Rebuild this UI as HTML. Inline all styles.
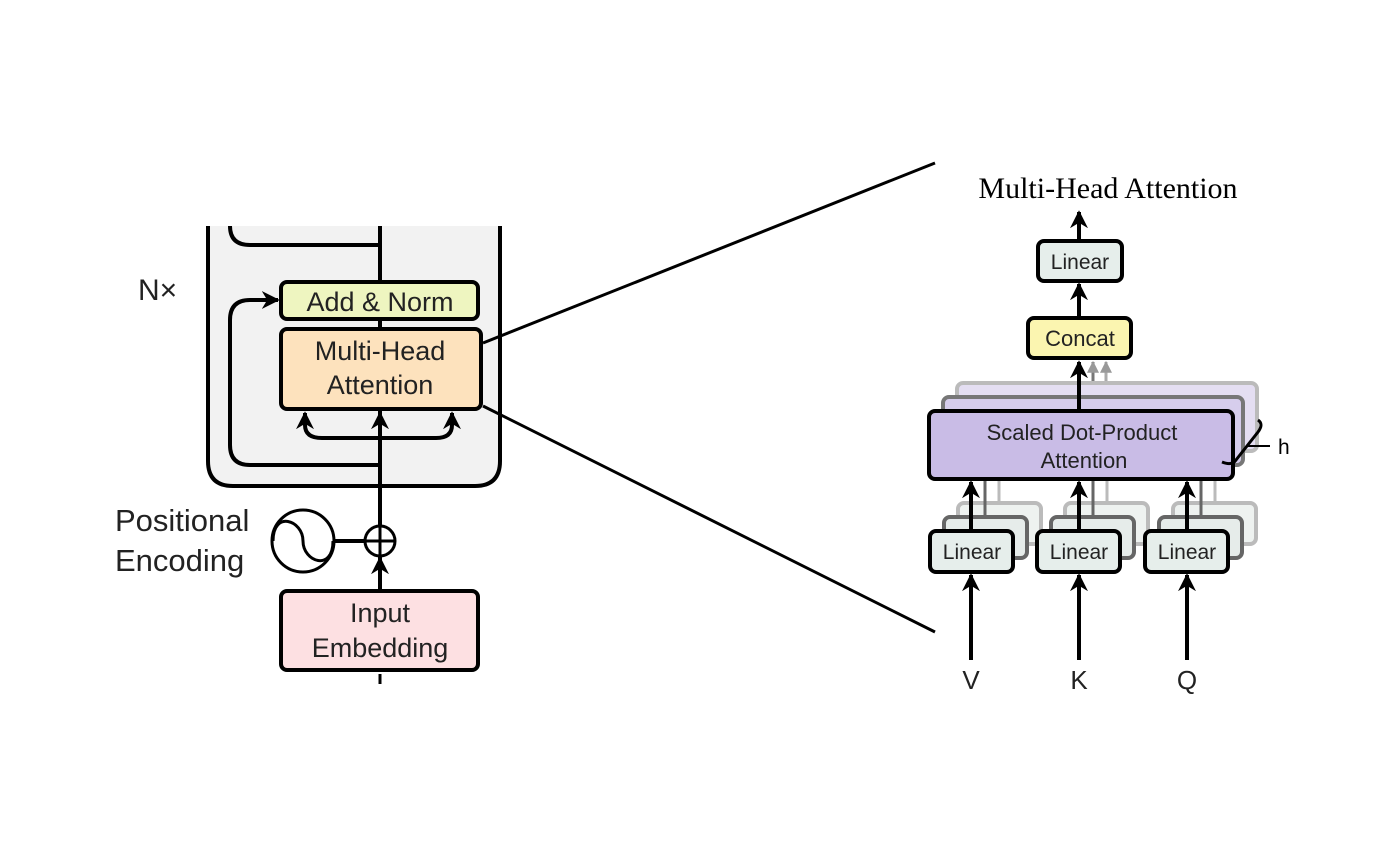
<!DOCTYPE html>
<html><head><style>body{margin:0;background:#fff}svg{display:block}</style></head><body>
<svg width="1400" height="860" viewBox="0 0 1400 860" xmlns="http://www.w3.org/2000/svg" font-family="Liberation Sans, sans-serif">
<defs>
<marker id="a" viewBox="0 0 10 10" refX="9" refY="5" markerWidth="4.5" markerHeight="4.5" orient="auto"><path d="M0,0 L10,5 L0,10 L3,5 z" fill="#000"/></marker>
<marker id="g" viewBox="0 0 10 10" refX="9" refY="5" markerWidth="4" markerHeight="4" orient="auto"><path d="M0,0 L10,5 L0,10 z" fill="#999"/></marker>
</defs>
<path d="M208,226 L208,461 Q208,486 233,486 L475,486 Q500,486 500,461 L500,226" fill="#f2f2f2" stroke="#000" stroke-width="4"/>
<path d="M230,226 Q230,245 250,245 L380,245" fill="none" stroke="#000" stroke-width="4"/>
<line x1="380" y1="226" x2="380" y2="586" stroke="#000" stroke-width="4"/>
<line x1="380" y1="420" x2="380" y2="413" stroke="#000" stroke-width="4" marker-end="url(#a)"/>
<path d="M380,465 L250,465 Q230,465 230,445 L230,320 Q230,300 250,300 L278,300" fill="none" stroke="#000" stroke-width="4" marker-end="url(#a)"/>
<path d="M380,438 L322,438 Q305,438 305,425 L305,413" fill="none" stroke="#000" stroke-width="4" marker-end="url(#a)"/>
<path d="M380,438 L436,438 Q452,438 452,425 L452,413" fill="none" stroke="#000" stroke-width="4" marker-end="url(#a)"/>
<rect x="281" y="282" width="197" height="37" rx="6" fill="#eef5c0" stroke="#000" stroke-width="4"/>
<text x="380" y="311" font-size="27" text-anchor="middle" fill="#222">Add &amp; Norm</text>
<rect x="281" y="329" width="200" height="80" rx="6" fill="#fde2bd" stroke="#000" stroke-width="4"/>
<text x="380" y="360" font-size="27" text-anchor="middle" fill="#222">Multi-Head</text>
<text x="380" y="394" font-size="27" text-anchor="middle" fill="#222">Attention</text>
<text x="138" y="300" font-size="30" fill="#222">N×</text>
<text x="115" y="531" font-size="31" fill="#222">Positional</text>
<text x="115" y="571" font-size="31" fill="#222">Encoding</text>
<circle cx="303" cy="541" r="31" fill="#fff" stroke="#000" stroke-width="3"/>
<path d="M273,541 C273,510 303,520 303,541 C303,562 333,572 333,541" fill="none" stroke="#000" stroke-width="3"/>
<line x1="334" y1="541" x2="365" y2="541" stroke="#000" stroke-width="4"/>
<circle cx="380" cy="541" r="15" fill="#fff" stroke="#000" stroke-width="3"/>
<line x1="366" y1="541" x2="394" y2="541" stroke="#000" stroke-width="3"/>
<line x1="380" y1="527" x2="380" y2="555" stroke="#000" stroke-width="3"/>
<line x1="380" y1="590" x2="380" y2="558" stroke="#000" stroke-width="4" marker-end="url(#a)"/>
<rect x="281" y="591" width="197" height="79" rx="6" fill="#fde0e2" stroke="#000" stroke-width="4"/>
<text x="380" y="622" font-size="27" text-anchor="middle" fill="#222">Input</text>
<text x="380" y="657" font-size="27" text-anchor="middle" fill="#222">Embedding</text>
<line x1="380" y1="684" x2="380" y2="674" stroke="#000" stroke-width="3"/>
<line x1="483" y1="343" x2="935" y2="163" stroke="#000" stroke-width="3"/>
<line x1="483" y1="406" x2="935" y2="632" stroke="#000" stroke-width="3"/>
<text x="1108" y="198" font-size="30" text-anchor="middle" font-family="Liberation Serif, serif">Multi-Head Attention</text>
<line x1="1079" y1="241" x2="1079" y2="212" stroke="#000" stroke-width="4" marker-end="url(#a)"/>
<rect x="1038" y="241" width="84" height="40" rx="6" fill="#e6eeeb" stroke="#000" stroke-width="4"/>
<text x="1080" y="269" font-size="21" text-anchor="middle" fill="#222">Linear</text>
<line x1="1079" y1="318" x2="1079" y2="284" stroke="#000" stroke-width="4" marker-end="url(#a)"/>
<rect x="1028" y="318" width="103" height="40" rx="6" fill="#fbf5b0" stroke="#000" stroke-width="4"/>
<text x="1080" y="346" font-size="22" text-anchor="middle" fill="#222">Concat</text>
<line x1="1106" y1="383" x2="1106" y2="362" stroke="#aaa" stroke-width="3" marker-end="url(#g)"/>
<line x1="1093" y1="397" x2="1093" y2="362" stroke="#777" stroke-width="3" marker-end="url(#g)"/>
<rect x="957" y="383" width="300" height="68" rx="6" fill="#e4def2" stroke="#bbb" stroke-width="4"/>
<rect x="943" y="397" width="300" height="68" rx="6" fill="#d6cdec" stroke="#777" stroke-width="4"/>
<line x1="1079" y1="411" x2="1079" y2="362" stroke="#000" stroke-width="4" marker-end="url(#a)"/>
<rect x="929" y="411" width="304" height="68" rx="6" fill="#c9bce6" stroke="#000" stroke-width="4"/>
<text x="1082" y="440" font-size="22" text-anchor="middle" fill="#222">Scaled Dot-Product</text>
<text x="1084" y="468" font-size="22" text-anchor="middle" fill="#222">Attention</text>
<path d="M1222,462 Q1232,466 1236,460 L1258,432 Q1264,424 1258,420" fill="none" stroke="#000" stroke-width="3"/>
<line x1="1247" y1="446" x2="1270" y2="446" stroke="#000" stroke-width="2"/>
<text x="1278" y="454" font-size="21">h</text>
<rect x="958" y="503" width="83" height="41" rx="6" fill="#eef2f0" stroke="#bbb" stroke-width="4"/>
<rect x="944" y="517" width="83" height="41" rx="6" fill="#e6ecea" stroke="#666" stroke-width="4"/>
<rect x="1065" y="503" width="83" height="41" rx="6" fill="#eef2f0" stroke="#bbb" stroke-width="4"/>
<rect x="1051" y="517" width="83" height="41" rx="6" fill="#e6ecea" stroke="#666" stroke-width="4"/>
<rect x="1173" y="503" width="83" height="41" rx="6" fill="#eef2f0" stroke="#bbb" stroke-width="4"/>
<rect x="1159" y="517" width="83" height="41" rx="6" fill="#e6ecea" stroke="#666" stroke-width="4"/>
<line x1="985" y1="517" x2="985" y2="481" stroke="#666" stroke-width="3"/>
<line x1="999" y1="503" x2="999" y2="481" stroke="#bbb" stroke-width="3"/>
<line x1="1093" y1="517" x2="1093" y2="481" stroke="#666" stroke-width="3"/>
<line x1="1107" y1="503" x2="1107" y2="481" stroke="#bbb" stroke-width="3"/>
<line x1="1201" y1="517" x2="1201" y2="481" stroke="#666" stroke-width="3"/>
<line x1="1215" y1="503" x2="1215" y2="481" stroke="#bbb" stroke-width="3"/>
<g stroke="#000" stroke-width="4">
<line x1="971" y1="531" x2="971" y2="482" marker-end="url(#a)"/>
<line x1="1079" y1="531" x2="1079" y2="482" marker-end="url(#a)"/>
<line x1="1187" y1="531" x2="1187" y2="482" marker-end="url(#a)"/>
<line x1="971" y1="660" x2="971" y2="575" marker-end="url(#a)"/>
<line x1="1079" y1="660" x2="1079" y2="575" marker-end="url(#a)"/>
<line x1="1187" y1="660" x2="1187" y2="575" marker-end="url(#a)"/>
</g>
<rect x="930" y="531" width="83" height="41" rx="6" fill="#e6eeeb" stroke="#000" stroke-width="4"/>
<text x="972" y="559" font-size="21" text-anchor="middle" fill="#222">Linear</text>
<rect x="1037" y="531" width="83" height="41" rx="6" fill="#e6eeeb" stroke="#000" stroke-width="4"/>
<text x="1079" y="559" font-size="21" text-anchor="middle" fill="#222">Linear</text>
<rect x="1145" y="531" width="83" height="41" rx="6" fill="#e6eeeb" stroke="#000" stroke-width="4"/>
<text x="1187" y="559" font-size="21" text-anchor="middle" fill="#222">Linear</text>
<text x="971" y="689" font-size="26" text-anchor="middle" fill="#222">V</text>
<text x="1079" y="689" font-size="26" text-anchor="middle" fill="#222">K</text>
<text x="1187" y="689" font-size="26" text-anchor="middle" fill="#222">Q</text>
</svg>
</body></html>
